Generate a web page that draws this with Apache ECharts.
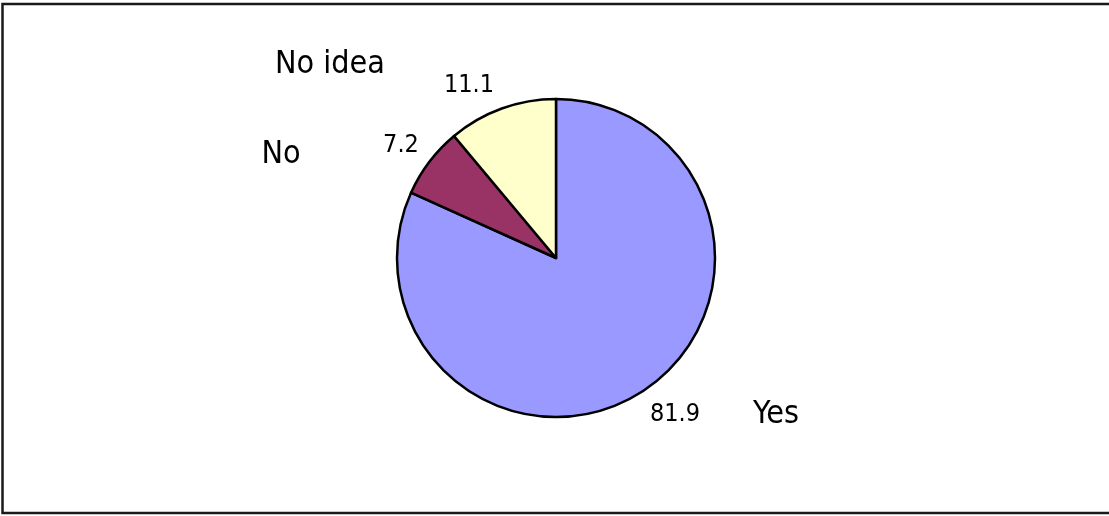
<!DOCTYPE html>
<html>
<head>
<meta charset="utf-8">
<script src="https://cdn.jsdelivr.net/npm/echarts@6/dist/echarts.min.js"></script>
<style>
html,body{margin:0;padding:0;background:#fff;}
#chart{width:1109px;height:516px;}
</style>
</head>
<body>
<div id="chart"></div>
<script>
var categories = ['Yes', 'No', 'No idea'];
var values = [81.9, 7.2, 11.1];
var colors = ['#9999FF', '#993366', '#FFFFCC'];

var valuePos = [[675, 414], [401, 145], [469, 85]];
var namePos = [[776, 415], [281, 155], [330, 65]];
var FONT = '"DejaVu Sans Condensed", "DejaVu Sans Mono", monospace';

var chart = echarts.init(document.getElementById('chart'), null, {renderer: 'canvas'});

var pieData = categories.map(function (c, i) {
  return { name: c, value: values[i], itemStyle: { color: colors[i] } };
});

chart.setOption({
  backgroundColor: '#ffffff',
  animation: false,
  graphic: [{
    type: 'rect',
    shape: { x: 2.5, y: 4, width: 1112, height: 509 },
    style: { fill: 'none', stroke: '#1a1a1a', lineWidth: 2.5 },
    silent: true
  }],
  series: [{
    type: 'pie',
    center: [556, 258],
    radius: [0, 159],
    startAngle: 90,
    clockwise: true,
    data: pieData,
    itemStyle: { borderColor: '#000', borderWidth: 2.5 },
    label: {
      show: true,
      position: 'outside',
      formatter: function (p) { return values[p.dataIndex].toFixed(1); },
      fontFamily: FONT,
      fontSize: 25,
      color: '#000'
    },
    labelLine: { show: false },
    labelLayout: function (p) {
      var pos = valuePos[p.dataIndex];
      return { x: pos[0], y: pos[1], align: 'center', verticalAlign: 'middle' };
    },
    emphasis: { disabled: true }
  }, {
    type: 'pie',
    center: [556, 258],
    radius: [0, 159],
    startAngle: 90,
    clockwise: true,
    silent: true,
    z: 1,
    data: categories.map(function (c, i) {
      return { name: c, value: values[i], itemStyle: { color: 'rgba(0,0,0,0)' } };
    }),
    itemStyle: { borderWidth: 0 },
    label: {
      show: true,
      position: 'outside',
      formatter: '{b}',
      fontFamily: FONT,
      fontSize: 32,
      color: '#000'
    },
    labelLine: { show: false },
    labelLayout: function (p) {
      var pos = namePos[p.dataIndex];
      return { x: pos[0], y: pos[1], align: 'center', verticalAlign: 'middle' };
    },
    emphasis: { disabled: true }
  }]
});
</script>
</body>
</html>
